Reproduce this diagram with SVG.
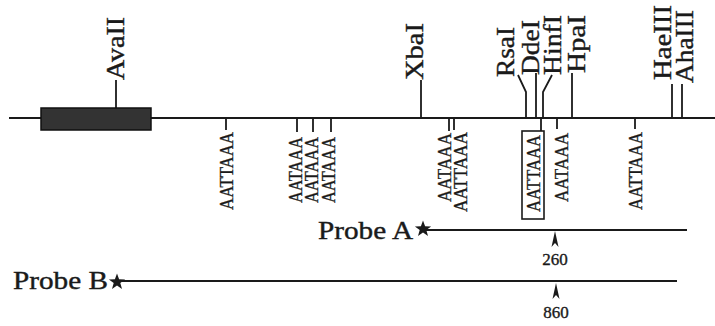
<svg xmlns="http://www.w3.org/2000/svg" width="715" height="326" viewBox="0 0 715 326">
<style>
.ln{stroke:#1a1a1a;stroke-width:2;fill:none}
.tk{stroke:#1a1a1a;stroke-width:1.8;fill:none}
.pr{stroke:#1a1a1a;stroke-width:1.8;fill:none}
.lb{font-family:"Liberation Serif","Times New Roman",serif;font-size:25px;fill:#1a1a1a;stroke:#1a1a1a;stroke-width:0.4}
.sq{font-family:"Liberation Serif","Times New Roman",serif;font-size:19.5px;fill:#1a1a1a;stroke:#1a1a1a;stroke-width:0.35}
.num{font-family:"Liberation Serif","Times New Roman",serif;font-size:17px;fill:#1a1a1a;stroke:#1a1a1a;stroke-width:0.35;text-anchor:middle}
</style>
<defs>
<path id="star" d="M0,-8.5 L2.1,-2.8 L8.1,-2.6 L3.3,1.1 L5,6.9 L0,3.5 L-5,6.9 L-3.3,1.1 L-8.1,-2.6 L-2.1,-2.8 Z" fill="#1a1a1a"/>
<path id="arr" d="M0,0 L3.5,16 L0,12 L-3.5,16 Z" fill="#1a1a1a"/>
</defs>
<rect width="715" height="326" fill="#ffffff"/>
<g id="connectors">
<line class="ln" x1="9" y1="118" x2="715" y2="118"/>
<line class="tk" x1="116" y1="80" x2="116" y2="108"/>
<line class="tk" x1="421" y1="80" x2="421" y2="118"/>
<polyline class="tk" points="518,75 526,92 526,118"/>
<line class="tk" x1="536" y1="73" x2="536" y2="118"/>
<polyline class="tk" points="552,75 543,92 543,118"/>
<line class="tk" x1="572" y1="73" x2="572" y2="118"/>
<line class="tk" x1="672" y1="84" x2="672" y2="118"/>
<line class="tk" x1="682" y1="84" x2="682" y2="118"/>
<line class="tk" x1="226" y1="118" x2="226" y2="130"/>
<line class="tk" x1="297" y1="118" x2="297" y2="132"/>
<line class="tk" x1="313" y1="118" x2="313" y2="132"/>
<line class="tk" x1="331" y1="118" x2="331" y2="132"/>
<line class="tk" x1="449" y1="118" x2="449" y2="131"/>
<line class="tk" x1="454" y1="118" x2="454" y2="130"/>
<line class="tk" x1="541" y1="118" x2="541" y2="131"/>
<line class="tk" x1="557" y1="118" x2="557" y2="129"/>
<line class="tk" x1="635" y1="118" x2="635" y2="129"/>
<line class="pr" x1="425" y1="230" x2="687" y2="230"/>
<line class="pr" x1="121" y1="281" x2="677" y2="281"/>
</g>
<g id="exon"><rect x="41" y="108" width="110" height="22" fill="#333333" stroke="#111111" stroke-width="1.5"/></g>
<g id="AvaII"><text class="lb" transform="translate(124,80) rotate(-90)" textLength="63" lengthAdjust="spacingAndGlyphs">AvaII</text></g>
<g id="XbaI"><text class="lb" transform="translate(423,80) rotate(-90)" textLength="57" lengthAdjust="spacingAndGlyphs">XbaI</text></g>
<g id="RsaI"><text class="lb" transform="translate(514,77) rotate(-90)" textLength="50" lengthAdjust="spacingAndGlyphs">RsaI</text></g>
<g id="DdeI"><text class="lb" transform="translate(539,75) rotate(-90)" textLength="55" lengthAdjust="spacingAndGlyphs">DdeI</text></g>
<g id="HinfI"><text class="lb" transform="translate(561,75) rotate(-90)" textLength="60" lengthAdjust="spacingAndGlyphs">HinfI</text></g>
<g id="HpaI"><text class="lb" transform="translate(585,73) rotate(-90)" textLength="58" lengthAdjust="spacingAndGlyphs">HpaI</text></g>
<g id="HaeIII"><text class="lb" transform="translate(671,80) rotate(-90)" textLength="75" lengthAdjust="spacingAndGlyphs">HaeIII</text></g>
<g id="AhaIII"><text class="lb" transform="translate(693,83) rotate(-90)" textLength="73" lengthAdjust="spacingAndGlyphs">AhaIII</text></g>
<g id="sig1"><text class="sq" transform="translate(233,210) rotate(-90)" textLength="78" lengthAdjust="spacingAndGlyphs">AATTAAA</text></g>
<g id="sig2"><text class="sq" transform="translate(302,203) rotate(-90)" textLength="66" lengthAdjust="spacingAndGlyphs">AATAAA</text></g>
<g id="sig3"><text class="sq" transform="translate(318,203) rotate(-90)" textLength="66" lengthAdjust="spacingAndGlyphs">AATAAA</text></g>
<g id="sig4"><text class="sq" transform="translate(335,203) rotate(-90)" textLength="66" lengthAdjust="spacingAndGlyphs">AATAAA</text></g>
<g id="sig5"><text class="sq" transform="translate(451,202) rotate(-90)" textLength="69" lengthAdjust="spacingAndGlyphs">AATAAA</text></g>
<g id="sig6"><text class="sq" transform="translate(467,212) rotate(-90)" textLength="80" lengthAdjust="spacingAndGlyphs">AATTAAA</text></g>
<g id="sig7"><rect x="522" y="131" width="22" height="88" fill="none" stroke="#1a1a1a" stroke-width="1.6"/><text class="sq" transform="translate(539.5,212) rotate(-90)" textLength="77" lengthAdjust="spacingAndGlyphs">AATTAAA</text></g>
<g id="sig8"><text class="sq" transform="translate(568,202) rotate(-90)" textLength="69" lengthAdjust="spacingAndGlyphs">AATAAA</text></g>
<g id="sig9"><text class="sq" transform="translate(642,210) rotate(-90)" textLength="78" lengthAdjust="spacingAndGlyphs">AATTAAA</text></g>
<g id="probeA"><text class="lb" x="318" y="239" textLength="95" lengthAdjust="spacingAndGlyphs">Probe A</text><use href="#star" x="423" y="229"/><use href="#arr" x="555" y="231"/><text class="num" x="555" y="265">260</text></g>
<g id="probeB"><text class="lb" x="13" y="289" textLength="95" lengthAdjust="spacingAndGlyphs">Probe B</text><use href="#star" x="117" y="282"/><use href="#arr" x="556" y="283"/><text class="num" x="556" y="318">860</text></g>
</svg>
